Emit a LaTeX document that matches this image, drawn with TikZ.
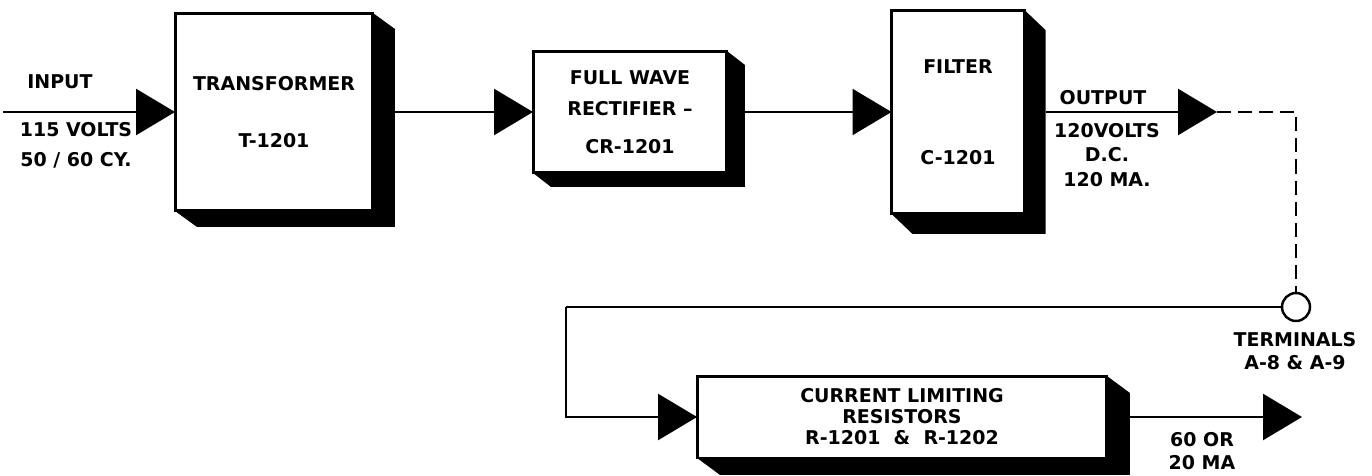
\documentclass[tikz,border=0pt]{standalone}
\usepackage{fontspec}
\setmainfont{DejaVu Sans}
\usetikzlibrary{arrows.meta, calc, positioning}

% solid shadow on the right and bottom of a block
\newcommand{\blockshade}[3]{%
  \fill (#1.north east) -- ++(#2,#3) |- ($(#1.south west)+(#2,#3)$) -- (#1.south west) -- (#1.south east) -- cycle;}

\begin{document}
\begin{tikzpicture}[
    x=0.02cm, y=-0.02cm,
    font=\bfseries\fontsize{10.8}{13}\selectfont,
    block/.style={rectangle, draw=black, fill=white, line width=1.7pt, inner sep=0pt, outer sep=0pt, align=center},
    wire/.style={line width=1.4pt},
    arrow/.style={wire, -{Triangle[length=0.78cm, width=0.92cm]}},
    lbl/.style={align=center, inner sep=0pt}
]
\useasboundingbox (0,0) rectangle (1372,476);

% Nodes
\node (trans) [block, minimum width=3.96cm, minimum height=3.96cm] at (274,112) {TRANSFORMER\\[19pt]T-1201};
\node (rect) [block, minimum width=3.88cm, minimum height=2.44cm] at (630,112) {FULL WAVE\\[4.5pt]RECTIFIER --\\[8.5pt]CR-1201};
\node (filter) [block, minimum width=2.66cm, minimum height=4.08cm] at (958,112) {FILTER\\[39pt]C-1201};
\node (limit) [block, minimum width=8.2cm, minimum height=1.64cm] at (902,417) {CURRENT LIMITING\\[-1pt]RESISTORS\\[-1pt]R-1201 \ \& \ R-1202};
\node (term) [circle, draw, line width=1.4pt, minimum size=0.56cm, inner sep=0pt] at (1296,307) {};

\coordinate (in) at (3,112);
\coordinate (out) at (1217,112);
\coordinate (loop) at (566,307);
\coordinate (load) at (1302,417);

\blockshade{trans}{22}{16}
\blockshade{rect}{18}{14}
\blockshade{filter}{21}{20}
\blockshade{limit}{23}{17}

% Labels
\node (inlbl) [lbl] at (60,82) {INPUT};
\node (supply) [lbl] at (76,145) {115 VOLTS\\[4pt]50 / 60 CY.};
\node (outlbl) [lbl] at (1103,98) {OUTPUT};
\node (dc) [lbl] at (1107,155) {120VOLTS\\[1pt]D.C.\\[1pt]120 MA.};
\node (termlbl) [lbl] at (1295,351) {TERMINALS\\A-8 \& A-9};
\node (ma) [lbl] at (1202,451) {60 OR\\20 MA};

% Arrows
\draw [arrow] (in) -- (trans.west);
\draw [arrow] ($(trans.east)+(22,0)$) -- (rect.west);
\draw [arrow] ($(rect.east)+(18,0)$) -- (filter.west);
\draw [arrow] ($(filter.east)+(21,0)$) -- (out);
\draw [wire, dash pattern={on 8pt off 4pt}] (out) -| (term.north);
\draw [wire] (term.west) -- (loop);
\draw [arrow] (loop) |- (limit.west);
\draw [arrow] ($(limit.east)+(23,0)$) -- (load);

\end{tikzpicture}
\end{document}
